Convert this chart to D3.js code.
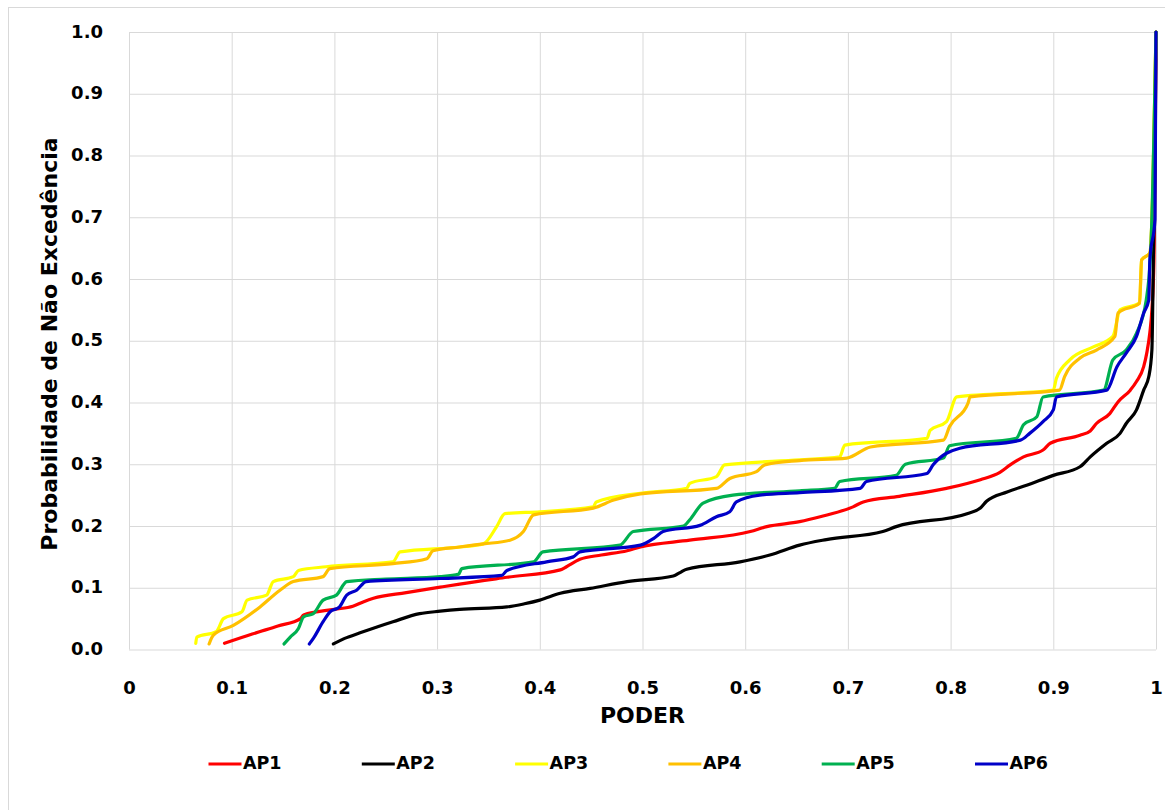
<!DOCTYPE html>
<html>
<head>
<meta charset="utf-8">
<script src="https://cdn.jsdelivr.net/npm/d3@7"></script>
<style>
  html, body { margin: 0; padding: 0; background: #fff; }
  svg text { font-family: "DejaVu Sans", sans-serif; font-weight: bold; fill: #000; }
</style>
</head>
<body>
<svg id="chart" width="1165" height="810"></svg>
<script>
// ---- data ----
const seriesNames = ["AP1", "AP2", "AP3", "AP4", "AP5", "AP6"];
const seriesColors = ["#ff0000", "#000000", "#ffff00", "#ffc000", "#00b050", "#0000c8"];

const ap1 = [[0.093,0.010],[0.12,0.025],[0.145,0.038],[0.167,0.050],[0.170,0.056],[0.20,0.065],[0.218,0.070],[0.228,0.077],[0.238,0.083],[0.27,0.092],[0.303,0.101],[0.322,0.106],[0.368,0.117],[0.420,0.129],[0.426,0.134],[0.439,0.146],[0.46,0.153],[0.485,0.160],[0.498,0.166],[0.546,0.177],[0.605,0.191],[0.621,0.199],[0.653,0.207],[0.673,0.215],[0.705,0.231],[0.715,0.239],[0.75,0.248],[0.796,0.261],[0.829,0.275],[0.848,0.287],[0.858,0.299],[0.871,0.312],[0.890,0.323],[0.897,0.334],[0.926,0.347],[0.936,0.354],[0.942,0.366],[0.955,0.382],[0.963,0.401],[0.975,0.420],[0.981,0.434],[0.988,0.458],[0.991,0.480],[0.994,0.513],[0.996,0.55],[0.998,0.63],[0.999,0.75],[1.0,1.0]];
const ap2 = [[0.199,0.009],[0.21,0.018],[0.225,0.027],[0.257,0.045],[0.283,0.058],[0.303,0.062],[0.322,0.065],[0.368,0.069],[0.385,0.074],[0.400,0.080],[0.420,0.091],[0.449,0.099],[0.485,0.110],[0.530,0.119],[0.537,0.125],[0.543,0.130],[0.595,0.142],[0.624,0.153],[0.653,0.169],[0.679,0.178],[0.734,0.191],[0.747,0.199],[0.816,0.220],[0.829,0.229],[0.835,0.240],[0.855,0.255],[0.874,0.266],[0.900,0.282],[0.926,0.296],[0.936,0.312],[0.952,0.334],[0.965,0.350],[0.971,0.366],[0.981,0.388],[0.988,0.420],[0.993,0.442],[0.996,0.485],[0.9975,0.64],[0.999,0.8],[1.0,1.0]];
const ap3 = [[0.065,0.010],[0.066,0.020],[0.085,0.029],[0.092,0.050],[0.110,0.061],[0.115,0.080],[0.134,0.088],[0.1405,0.110],[0.160,0.118],[0.165,0.128],[0.192,0.134],[0.257,0.142],[0.264,0.158],[0.322,0.166],[0.345,0.171],[0.358,0.199],[0.366,0.220],[0.400,0.223],[0.452,0.231],[0.455,0.239],[0.498,0.253],[0.543,0.261],[0.546,0.269],[0.572,0.280],[0.580,0.299],[0.653,0.307],[0.692,0.312],[0.697,0.331],[0.777,0.342],[0.780,0.355],[0.796,0.369],[0.806,0.409],[0.900,0.420],[0.903,0.439],[0.916,0.469],[0.939,0.490],[0.958,0.507],[0.965,0.550],[0.984,0.561],[0.986,0.631],[0.994,0.642],[0.997,0.750],[1.0,1.0]];
const ap4 = [[0.078,0.009],[0.082,0.023],[0.1016,0.039],[0.1276,0.069],[0.147,0.096],[0.160,0.110],[0.189,0.118],[0.1955,0.131],[0.257,0.139],[0.290,0.147],[0.296,0.160],[0.322,0.166],[0.345,0.171],[0.371,0.177],[0.384,0.191],[0.394,0.218],[0.452,0.229],[0.472,0.242],[0.498,0.252],[0.572,0.261],[0.585,0.277],[0.611,0.288],[0.619,0.299],[0.653,0.306],[0.699,0.310],[0.722,0.328],[0.793,0.339],[0.799,0.361],[0.817,0.399],[0.819,0.409],[0.906,0.420],[0.911,0.442],[0.926,0.472],[0.942,0.485],[0.960,0.507],[0.963,0.545],[0.984,0.561],[0.986,0.631],[0.994,0.642],[0.997,0.750],[1.0,1.0]];
const ap5 = [[0.151,0.009],[0.157,0.020],[0.165,0.034],[0.170,0.053],[0.1795,0.058],[0.189,0.080],[0.202,0.088],[0.212,0.110],[0.25,0.114],[0.303,0.118],[0.321,0.122],[0.324,0.131],[0.394,0.142],[0.403,0.158],[0.478,0.169],[0.491,0.191],[0.540,0.200],[0.546,0.210],[0.559,0.237],[0.588,0.250],[0.653,0.257],[0.687,0.261],[0.692,0.272],[0.747,0.282],[0.756,0.300],[0.793,0.310],[0.799,0.330],[0.864,0.342],[0.871,0.364],[0.884,0.377],[0.890,0.409],[0.949,0.420],[0.958,0.469],[0.971,0.485],[0.981,0.512],[0.9905,0.566],[0.995,0.65],[1.0,1.0]];
const ap6 = [[0.1756,0.009],[0.1795,0.018],[0.189,0.045],[0.1957,0.061],[0.205,0.069],[0.212,0.088],[0.2216,0.096],[0.231,0.110],[0.303,0.115],[0.363,0.120],[0.368,0.128],[0.4066,0.142],[0.4326,0.150],[0.439,0.158],[0.498,0.169],[0.511,0.180],[0.520,0.191],[0.556,0.201],[0.572,0.215],[0.585,0.223],[0.5914,0.239],[0.614,0.250],[0.653,0.254],[0.712,0.261],[0.718,0.272],[0.777,0.285],[0.783,0.299],[0.809,0.326],[0.868,0.339],[0.877,0.350],[0.890,0.369],[0.900,0.388],[0.903,0.409],[0.952,0.420],[0.962,0.458],[0.971,0.480],[0.981,0.507],[0.988,0.545],[0.993,0.566],[0.994,0.631],[0.999,0.696],[1.0,1.0]];
const seriesData = [ap1, ap2, ap3, ap4, ap5, ap6];

const xTickValues = [0, 0.1, 0.2, 0.3, 0.4, 0.5, 0.6, 0.7, 0.8, 0.9, 1];
const xTickLabels = ["0", "0.1", "0.2", "0.3", "0.4", "0.5", "0.6", "0.7", "0.8", "0.9", "1"];
const yTickValues = [0, 0.1, 0.2, 0.3, 0.4, 0.5, 0.6, 0.7, 0.8, 0.9, 1.0];
const yTickLabels = ["0.0", "0.1", "0.2", "0.3", "0.4", "0.5", "0.6", "0.7", "0.8", "0.9", "1.0"];
const xTitle = "PODER";
const yTitle = "Probabilidade de Não Excedência";

// ---- layout ----
const svg = d3.select("#chart");
const L = 129, R = 1156, T = 32, B = 649.5;

svg.append("rect").attr("x", 8.5).attr("y", 7.5).attr("width", 1200).attr("height", 900)
  .attr("fill", "#fff").attr("stroke", "#d9d9d9").attr("stroke-width", 1);

const x = d3.scaleLinear().domain([0, 1]).range([L, R]);
const y = d3.scaleLinear().domain([0, 1]).range([B, T]);

// gridlines
const gx = svg.append("g").attr("transform", `translate(0,${B})`)
  .call(d3.axisBottom(x).tickValues(xTickValues).tickSize(-(B - T)).tickFormat(""));
gx.select(".domain").remove();
gx.selectAll("line").attr("stroke", "#d9d9d9").attr("stroke-width", 1);

const gy = svg.append("g").attr("transform", `translate(${L},0)`)
  .call(d3.axisLeft(y).tickValues(yTickValues).tickSize(-(R - L)).tickFormat(""));
gy.select(".domain").remove();
gy.selectAll("line").attr("stroke", "#d9d9d9").attr("stroke-width", 1);

// tick labels
const xl = svg.append("g").attr("transform", `translate(0,${B})`)
  .call(d3.axisBottom(x).tickValues(xTickValues).tickSize(0).tickPadding(39)
    .tickFormat((d, i) => xTickLabels[i]));
xl.select(".domain").remove();
xl.selectAll("text").attr("font-size", 18).attr("dy", "0").attr("dominant-baseline", "middle")
  .style("font-family", "'DejaVu Sans', sans-serif").style("font-weight", "bold").attr("fill", "#000");

const yl = svg.append("g").attr("transform", `translate(${L},0)`)
  .call(d3.axisLeft(y).tickValues(yTickValues).tickSize(0).tickPadding(26)
    .tickFormat((d, i) => yTickLabels[i]));
yl.select(".domain").remove();
yl.selectAll("text").attr("font-size", 18).attr("dy", "0").attr("dominant-baseline", "middle")
  .style("font-family", "'DejaVu Sans', sans-serif").style("font-weight", "bold").attr("fill", "#000");

// axis titles
svg.append("text").attr("x", (L + R) / 2).attr("y", 717)
  .attr("text-anchor", "middle").attr("dominant-baseline", "middle")
  .attr("font-size", 22).text(xTitle);
svg.append("text").attr("transform", `translate(51,344) rotate(-90)`)
  .attr("text-anchor", "middle").attr("dominant-baseline", "middle")
  .attr("font-size", 22).text(yTitle);

// lines
const line = d3.line().x(d => x(d[0])).y(d => y(d[1])).curve(d3.curveMonotoneX);
seriesData.forEach((data, i) => {
  svg.append("path").datum(data)
    .attr("fill", "none").attr("stroke", seriesColors[i]).attr("stroke-width", 3.2)
    .attr("stroke-linejoin", "round").attr("stroke-linecap", "round")
    .attr("d", line);
});

// legend
const legendX0 = 208.5, legendStep = 153.3, legendY = 764;
const lg = svg.append("g");
seriesNames.forEach((name, i) => {
  const gx0 = legendX0 + i * legendStep;
  lg.append("line").attr("x1", gx0).attr("x2", gx0 + 33).attr("y1", legendY).attr("y2", legendY)
    .attr("stroke", seriesColors[i]).attr("stroke-width", 3.2);
  lg.append("text").attr("x", gx0 + 34.5).attr("y", legendY).attr("dominant-baseline", "middle")
    .attr("font-size", 17.5).text(name);
});
</script>
</body>
</html>
